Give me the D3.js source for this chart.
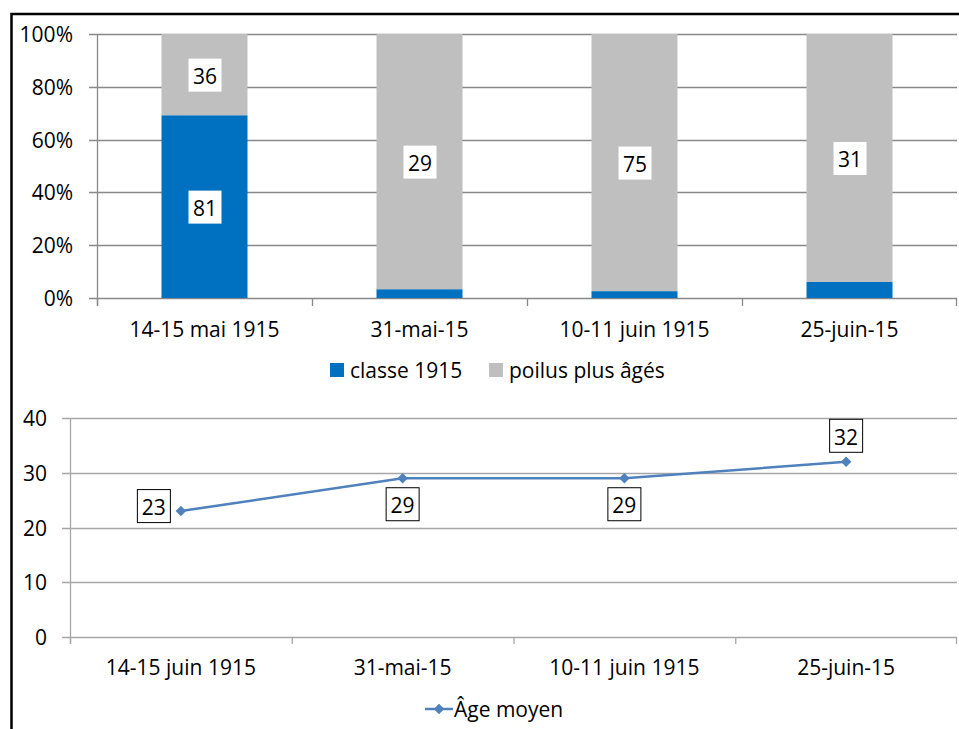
<!DOCTYPE html>
<html>
<head>
<meta charset="utf-8">
<script src="https://cdn.jsdelivr.net/npm/d3@7"></script>
<style>
  body { margin: 0; background: #fff; }
  svg text { font-family: "Open Sans", "Liberation Sans", sans-serif; fill: #000; }
</style>
</head>
<body>
<div id="chart"></div>
<script>
// top chart: share of "classe 1915" vs older soldiers per date
const topCategories = ["14-15 mai 1915", "31-mai-15", "10-11 juin 1915", "25-juin-15"];
const classe1915 = [81, 1, 2, 2];
const poilusAges = [36, 29, 75, 31];
const topTicks = [0, 0.2, 0.4, 0.6, 0.8, 1];

// bottom chart: average age
const bottomCategories = ["14-15 juin 1915", "31-mai-15", "10-11 juin 1915", "25-juin-15"];
const ageMoyen = [23, 29, 29, 32];
const ageLabelPos = ["left", "below", "below", "above"];
const bottomTicks = [0, 10, 20, 30, 40];

const W = 959, H = 729;
const fontSize = 21;
const blue = "#0070C0", grey = "#BFBFBF", lineBlue = "#4F81BD";

const svg = d3.select("#chart").append("svg")
    .attr("width", W)
    .attr("height", H);

svg.append("rect")
    .attr("width", W).attr("height", H)
    .attr("fill", "#fff");

// frame
svg.append("rect")
    .attr("x", 11.5).attr("y", 14)
    .attr("width", 970).attr("height", 740)
    .attr("fill", "none")
    .attr("stroke", "#000")
    .attr("stroke-width", 2.5);

function labelBox(g, x, y, txt) {
    var t = g.append("text")
        .attr("x", x).attr("y", y)
        .attr("text-anchor", "middle")
        .attr("dominant-baseline", "central")
        .style("font-size", fontSize + "px")
        .text(txt);
    return t;
}

// ---------- top: 100% stacked bars ----------
(function() {
    var left = 97, right = 957, top = 34, bottom = 298;

    var x = d3.scaleBand().domain(topCategories).range([left, right])
        .paddingInner(0.6).paddingOuter(0.3);
    var y = d3.scaleLinear().domain([0, 1]).range([bottom, top]);

    var data = topCategories.map(function(c, i) {
        return { cat: c, classe: classe1915[i], poilus: poilusAges[i] };
    });
    var stack = d3.stack().keys(["classe", "poilus"]).offset(d3.stackOffsetExpand);
    var series = stack(data);
    var colors = { classe: blue, poilus: grey };

    var g = svg.append("g");

    // gridlines
    g.selectAll("line.grid")
        .data(topTicks)
        .enter().append("line")
        .attr("x1", left - 8).attr("x2", right)
        .attr("y1", function(d) { return Math.round(y(d)) + 0.5; })
        .attr("y2", function(d) { return Math.round(y(d)) + 0.5; })
        .attr("stroke", "#898989")
        .attr("stroke-width", 1.3);

    // bars
    series.forEach(function(s) {
        g.append("g").selectAll("rect")
            .data(s)
            .enter().append("rect")
            .attr("x", function(d) { return x(d.data.cat); })
            .attr("width", x.bandwidth())
            .attr("y", function(d) { return y(d[1]); })
            .attr("height", function(d) { return y(d[0]) - y(d[1]); })
            .attr("fill", colors[s.key]);
    });

    // y axis line and x axis ticks
    g.append("line")
        .attr("x1", left + 0.5).attr("x2", left + 0.5)
        .attr("y1", top).attr("y2", bottom + 8)
        .attr("stroke", "#898989").attr("stroke-width", 1.3);
    var bounds = d3.range(topCategories.length + 1).map(function(i) { return left + i * x.step(); });
    g.selectAll("line.xt")
        .data(bounds)
        .enter().append("line")
        .attr("x1", function(d) { return Math.min(d, right - 1) + 0.5; })
        .attr("x2", function(d) { return Math.min(d, right - 1) + 0.5; })
        .attr("y1", bottom).attr("y2", bottom + 8)
        .attr("stroke", "#898989").attr("stroke-width", 1.3);

    // y tick labels
    g.selectAll("text.yl")
        .data(topTicks)
        .enter().append("text")
        .attr("x", 73)
        .attr("y", function(d) { return y(d); })
        .attr("text-anchor", "end")
        .attr("dominant-baseline", "central")
        .style("font-size", fontSize + "px")
        .text(d3.format(".0%"));

    // x labels
    g.selectAll("text.xl")
        .data(topCategories)
        .enter().append("text")
        .attr("x", function(d) { return x(d) + x.bandwidth() / 2; })
        .attr("y", 329)
        .attr("text-anchor", "middle")
        .attr("dominant-baseline", "central")
        .style("font-size", fontSize + "px")
        .text(function(d) { return d; });

    // data labels (only segments big enough to carry one)
    series.forEach(function(s) {
        s.forEach(function(d, i) {
            if (d[1] - d[0] < 0.1) return;
            var cx = x(d.data.cat) + x.bandwidth() / 2;
            var cy = (y(d[0]) + y(d[1])) / 2;
            g.append("rect")
                .attr("x", cx - 16).attr("y", cy - 16)
                .attr("width", 33).attr("height", 33)
                .attr("fill", "#fff");
            labelBox(g, cx + 0.5, cy + 1, d.data[s.key]);
        });
    });

    // legend
    var leg = g.append("g").attr("transform", "translate(0,370)");
    var items = [{ name: "classe 1915", color: blue, x: 330 }, { name: "poilus plus âgés", color: grey, x: 489 }];
    items.forEach(function(it) {
        leg.append("rect")
            .attr("x", it.x).attr("y", -7)
            .attr("width", 14).attr("height", 14)
            .attr("fill", it.color);
        leg.append("text")
            .attr("x", it.x + 20).attr("y", 0)
            .attr("dominant-baseline", "central")
            .style("font-size", fontSize + "px")
            .text(it.name);
    });
})();

// ---------- bottom: line chart ----------
(function() {
    var left = 70, right = 957, top = 418, bottom = 637;

    var x = d3.scalePoint().domain(bottomCategories).range([left, right]).padding(0.5);
    var y = d3.scaleLinear().domain([0, 40]).range([bottom, top]);
    var step = x.step();

    var g = svg.append("g");

    g.selectAll("line.grid")
        .data(bottomTicks)
        .enter().append("line")
        .attr("x1", left - 8).attr("x2", right)
        .attr("y1", function(d) { return Math.round(y(d)) + 0.5; })
        .attr("y2", function(d) { return Math.round(y(d)) + 0.5; })
        .attr("stroke", "#a6a6a6")
        .attr("stroke-width", 1.3);

    g.append("line")
        .attr("x1", left + 0.5).attr("x2", left + 0.5)
        .attr("y1", top).attr("y2", bottom + 7)
        .attr("stroke", "#a6a6a6").attr("stroke-width", 1.3);

    var bounds = d3.range(bottomCategories.length + 1).map(function(i) { return left + i * step; });
    g.selectAll("line.xt")
        .data(bounds)
        .enter().append("line")
        .attr("x1", function(d) { return Math.min(d, right - 1) + 0.5; })
        .attr("x2", function(d) { return Math.min(d, right - 1) + 0.5; })
        .attr("y1", bottom).attr("y2", bottom + 7)
        .attr("stroke", "#a6a6a6").attr("stroke-width", 1.3);

    g.selectAll("text.yl")
        .data(bottomTicks)
        .enter().append("text")
        .attr("x", 47)
        .attr("y", function(d) { return y(d); })
        .attr("text-anchor", "end")
        .attr("dominant-baseline", "central")
        .style("font-size", fontSize + "px")
        .text(function(d) { return d; });

    g.selectAll("text.xl")
        .data(bottomCategories)
        .enter().append("text")
        .attr("x", function(d) { return x(d); })
        .attr("y", 667)
        .attr("text-anchor", "middle")
        .attr("dominant-baseline", "central")
        .style("font-size", fontSize + "px")
        .text(function(d) { return d; });

    var pts = bottomCategories.map(function(c, i) { return { cat: c, v: ageMoyen[i], pos: ageLabelPos[i] }; });

    var line = d3.line()
        .x(function(d) { return x(d.cat); })
        .y(function(d) { return y(d.v); });

    g.append("path")
        .datum(pts)
        .attr("d", line)
        .attr("fill", "none")
        .attr("stroke", lineBlue)
        .attr("stroke-width", 2.5);

    var diamond = d3.symbol().type(d3.symbolDiamond2).size(70);
    g.selectAll("path.mk")
        .data(pts)
        .enter().append("path")
        .attr("d", diamond)
        .attr("transform", function(d) { return "translate(" + x(d.cat) + "," + y(d.v) + ")"; })
        .attr("fill", lineBlue);

    pts.forEach(function(d) {
        var cx = x(d.cat), cy = y(d.v);
        if (d.pos == "left") { cx -= 27; cy -= 5; }
        else if (d.pos == "below") { cy += 26; }
        else { cy -= 26; }
        g.append("rect")
            .attr("x", cx - 16.5).attr("y", cy - 16.5)
            .attr("width", 33).attr("height", 33)
            .attr("fill", "#fff")
            .attr("stroke", "#000")
            .attr("stroke-width", 1);
        labelBox(g, cx, cy + 1, d.v);
    });

    // legend
    var leg = g.append("g").attr("transform", "translate(0,709)");
    leg.append("line")
        .attr("x1", 425).attr("x2", 453)
        .attr("stroke", lineBlue).attr("stroke-width", 2.5);
    leg.append("path")
        .attr("d", diamond)
        .attr("transform", "translate(439,0)")
        .attr("fill", lineBlue);
    leg.append("text")
        .attr("x", 454).attr("y", 0)
        .attr("dominant-baseline", "central")
        .style("font-size", fontSize + "px")
        .text("Âge moyen");
})();
</script>
</body>
</html>
